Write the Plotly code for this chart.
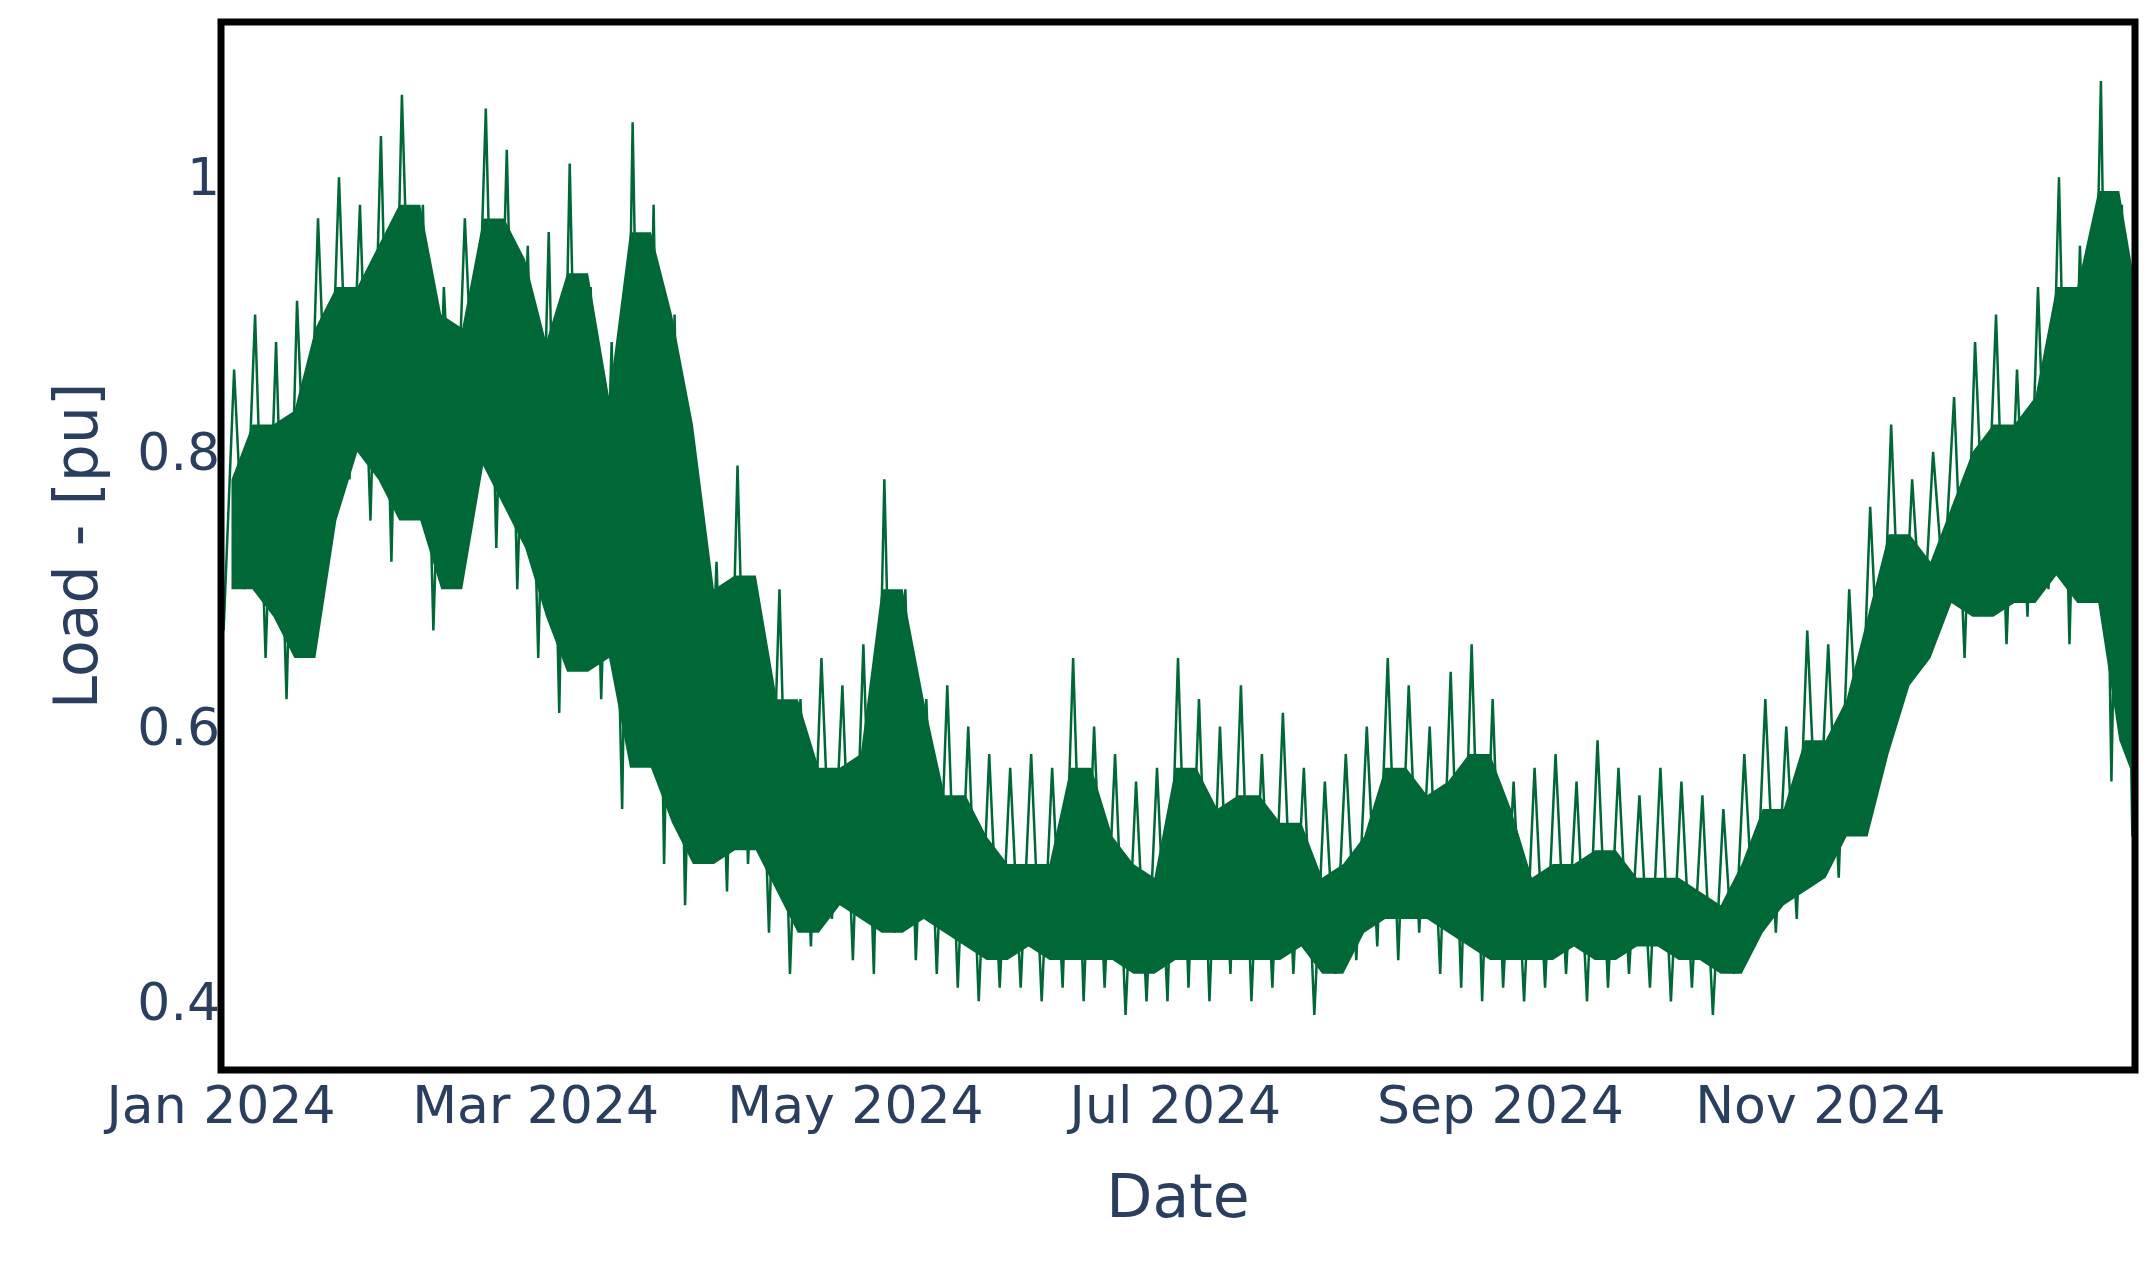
import plotly.graph_objects as go
import pandas as pd

# 4-day chunk envelope of the load (pu)
highs = [0.86,0.90,0.88,0.91,0.97,1.00,0.98,1.03,
         1.06,0.98,0.92,0.97,1.05,1.02,0.95,
         0.96,1.01,0.92,0.88,1.04,0.98,0.90,0.78,
         0.72,0.79,0.68,0.70,0.62,0.65,0.63,
         0.66,0.78,0.70,0.62,0.63,0.60,0.58,0.57,
         0.58,0.57,0.65,0.60,0.58,0.56,0.57,
         0.65,0.62,0.60,0.63,0.58,0.61,0.57,0.56,
         0.58,0.60,0.65,0.63,0.60,0.64,0.66,0.62,
         0.56,0.57,0.58,0.56,0.59,0.57,0.55,
         0.57,0.56,0.55,0.54,0.58,0.62,0.60,0.67,
         0.66,0.70,0.76,0.82,0.78,0.80,0.84,
         0.88,0.90,0.86,0.92,1.00,0.95,1.07,0.98,0.86]
lows = [0.67,0.70,0.65,0.62,0.72,0.77,0.78,0.75,
        0.72,0.80,0.67,0.76,0.80,0.73,0.70,
        0.65,0.61,0.66,0.62,0.54,0.60,0.50,0.47,
        0.52,0.48,0.50,0.45,0.42,0.44,0.46,
        0.43,0.42,0.45,0.43,0.42,0.41,0.40,0.41,
        0.41,0.40,0.41,0.40,0.41,0.39,0.40,
        0.40,0.41,0.40,0.42,0.40,0.41,0.42,0.39,
        0.42,0.43,0.44,0.43,0.45,0.42,0.41,0.40,
        0.41,0.40,0.41,0.42,0.40,0.41,0.42,
        0.41,0.40,0.41,0.39,0.42,0.44,0.45,0.46,
        0.50,0.49,0.55,0.60,0.62,0.66,0.70,
        0.65,0.70,0.66,0.68,0.70,0.66,0.70,0.56,0.52]

start = pd.Timestamp("2024-01-01")
xs, ys = [], []
xc = []
for i, (lo, hi) in enumerate(zip(lows, highs)):
    base = start + pd.Timedelta(days=4 * i)
    xs += [base + pd.Timedelta(hours=12), base + pd.Timedelta(hours=60)]
    ys += [lo, hi]
    xc.append(base + pd.Timedelta(hours=48))

green = "#006837"
lo_s = [min(lows[max(i - 1, 0)], lows[i]) + 0.03 for i in range(len(lows))]
hi_s = [max(highs[max(i - 1, 0)], highs[i]) - 0.08 for i in range(len(highs))]
fig = go.Figure()
fig.add_trace(go.Scatter(x=xc, y=lo_s, mode="lines", line=dict(color=green, width=0)))
fig.add_trace(go.Scatter(x=xc, y=hi_s, mode="lines", fill="tonexty",
                         fillcolor=green, line=dict(color=green, width=0)))
fig.add_trace(go.Scatter(x=xs, y=ys, mode="lines", line=dict(color=green, width=2.5)))
font = dict(family="DejaVu Sans", color="#2a3f5f")
fig.update_layout(
    width=2154, height=1262, plot_bgcolor="white", paper_bgcolor="white",
    margin=dict(l=213, r=27, t=14, b=200), showlegend=False,
    font=dict(size=52, **font),
    xaxis=dict(title=dict(text="Date", font=dict(size=60), standoff=40),
               range=["2024-01-01", "2024-12-31"], dtick="M2", tick0="2024-01-01",
               tickformat="%b %Y", showgrid=False, zeroline=False, ticks=""),
    yaxis=dict(title=dict(text="Load - [pu]", font=dict(size=60), standoff=20),
               range=[0.35, 1.113], tickvals=[0.4, 0.6, 0.8, 1],
               showgrid=False, zeroline=False),
)
fig.add_shape(type="rect", xref="paper", yref="paper", x0=0, x1=1, y0=0, y1=1,
              line=dict(color="black", width=7))
fig.write_html("out.html")
